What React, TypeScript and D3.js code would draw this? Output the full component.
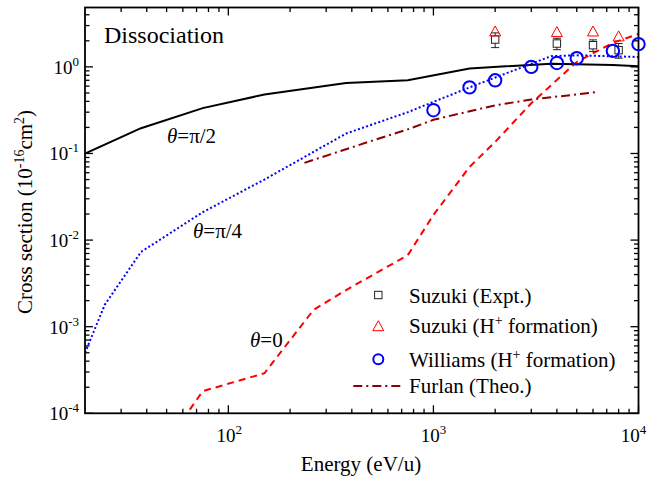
import React from 'react';
import * as d3 from 'd3';

const W = 650;
const H = 480;
const PL = 85, PR = 638.5, PT = 7.5, PB = 413.3;

const xDomain = [20, 10000];
const yDomain = [1e-4, 4.85];

// theta = pi/2 (black solid)
const halfE = [20, 37.5, 75, 150, 375, 750, 1500, 3750, 7500, 10000];
const halfV = [0.1, 0.196, 0.334, 0.48, 0.65, 0.7, 0.96, 1.09, 1.05, 1.02];

// theta = pi/4 (blue dotted)
const quarterE = [20, 25, 37.5, 75, 150, 375, 750, 1500, 3750, 5000, 10000];
const quarterV = [5e-4, 1.8e-3, 7.3e-3, 0.021, 0.05, 0.17, 0.3, 0.58, 1.33, 1.36, 1.3];

// theta = 0 (red dashed)
const zeroE = [60, 75, 150, 260, 375, 750, 1000, 1500, 2000, 3000, 5000, 7500, 10000];
const zeroV = [8.5e-5, 1.8e-4, 2.9e-4, 1.56e-3, 2.65e-3, 6.7e-3, 0.0195, 0.07, 0.136, 0.38, 1.14, 1.9, 2.4];

// Furlan (Theo.)
const furlanE = [235, 500, 750, 1000, 2000, 3000, 6200];
const furlanV = [0.078, 0.14, 0.19, 0.245, 0.36, 0.42, 0.51];

// Williams (H+ formation)
const williamsE = [1000, 1500, 2000, 3000, 4000, 5000, 7500, 10000];
const williamsV = [0.316, 0.58, 0.7, 1.0, 1.11, 1.26, 1.53, 1.83];

// Suzuki
const suzukiE = [2000, 4000, 6000, 8000];
const suzukiExpt = [2.07, 1.86, 1.78, 1.56];
const suzukiErr = [0.4, 0.28, 0.27, 0.3];
const suzukiH = [2.53, 2.49, 2.53, 2.22];

const xMajor = [100, 1000, 10000];
const xMajorExp = ['2', '3', '4'];
const yMajor = [1e-4, 1e-3, 1e-2, 1e-1, 1];
const yMajorExp = ['-4', '-3', '-2', '-1', '0'];

const legendLabels = ['Suzuki (Expt.)', 'Suzuki (H', 'Williams (H', 'Furlan (Theo.)'];

const FONT = 'Liberation Serif';

export default function App() {
  const x = d3.scaleLog().domain(xDomain).range([PL, PR]);
  const y = d3.scaleLog().domain(yDomain).range([PB, PT]);

  const mk = (E: number[], V: number[]) =>
    d3.line<number>().x((_, i) => x(E[i])).y((_, i) => y(V[i]))(E) || '';

  const xMinor: number[] = [];
  for (let k = 1; k <= 3; k++) for (let j = 2; j <= 9; j++) {
    const v = j * Math.pow(10, k);
    if (v > xDomain[0] && v < xDomain[1]) xMinor.push(v);
  }
  const yMinor: number[] = [];
  for (let k = -4; k <= 0; k++) for (let j = 2; j <= 9; j++) {
    const v = j * Math.pow(10, k);
    if (v > yDomain[0] && v < yDomain[1]) yMinor.push(v);
  }
  const MAJ = 8, MIN = 4.5;

  const tri = (cx: number, cy: number, s: number) =>
    `M${cx},${cy - s * 0.6} L${cx + s * 0.55},${cy + s * 0.4} L${cx - s * 0.55},${cy + s * 0.4} Z`;

  const legY = [295, 326.7, 359.3, 386];
  const legTextX = 409;
  const xLabelShift = [1, 0, -5];
  const ts = { fontFamily: FONT };

  return (
    <svg width={W} height={H} style={{ display: 'block', position: 'absolute', left: 0, top: 0 }}>
      <rect x={0} y={0} width={W} height={H} fill="#fff" />
      <defs>
        <clipPath id="plotclip">
          <rect x={PL} y={PT} width={PR - PL} height={PB - PT} />
        </clipPath>
      </defs>

      <g stroke="#000" strokeWidth={1.3}>
        {xMajor.map((v, i) => (
          <g key={'xM' + i}>
            <line x1={x(v)} x2={x(v)} y1={PB} y2={PB - MAJ} />
            <line x1={x(v)} x2={x(v)} y1={PT} y2={PT + MAJ} />
          </g>
        ))}
        {xMinor.map((v, i) => (
          <g key={'xm' + i}>
            <line x1={x(v)} x2={x(v)} y1={PB} y2={PB - MIN} />
            <line x1={x(v)} x2={x(v)} y1={PT} y2={PT + MIN} />
          </g>
        ))}
        {yMajor.map((v, i) => (
          <g key={'yM' + i}>
            <line x1={PL} x2={PL + MAJ} y1={y(v)} y2={y(v)} />
            <line x1={PR} x2={PR - MAJ} y1={y(v)} y2={y(v)} />
          </g>
        ))}
        {yMinor.map((v, i) => (
          <g key={'ym' + i}>
            <line x1={PL} x2={PL + MIN} y1={y(v)} y2={y(v)} />
            <line x1={PR} x2={PR - MIN} y1={y(v)} y2={y(v)} />
          </g>
        ))}
      </g>

      <g clipPath="url(#plotclip)" fill="none" strokeWidth={2}>
        <path d={mk(halfE, halfV)} stroke="#000" />
        <path d={mk(quarterE, quarterV)} stroke="#0000ff" strokeDasharray="2,2.3" />
        <path d={mk(zeroE, zeroV)} stroke="#ff0000" strokeDasharray="7,5" />
        <path d={mk(furlanE, furlanV)} stroke="#8b0000" strokeDasharray="9,4,2,4" />
      </g>

      <rect x={PL} y={PT} width={PR - PL} height={PB - PT} fill="none" stroke="#000" strokeWidth={1.8} />

      <g stroke="#222" strokeWidth={1} fill="none">
        {suzukiE.map((e, i) => {
          const cx = x(e);
          const y1 = y(suzukiExpt[i] + suzukiErr[i]);
          const y2 = y(suzukiExpt[i] - suzukiErr[i]);
          const cy = y(suzukiExpt[i]);
          return (
            <g key={'se' + i}>
              <line x1={cx} x2={cx} y1={y1} y2={y2} />
              <line x1={cx - 4} x2={cx + 4} y1={y1} y2={y1} />
              <line x1={cx - 4} x2={cx + 4} y1={y2} y2={y2} />
              <rect x={cx - 3.7} y={cy - 3.7} width={7.4} height={7.4} fill="#fff" />
            </g>
          );
        })}
      </g>
      <g stroke="#ff0000" strokeWidth={1} fill="none">
        {suzukiE.map((e, i) => (
          <path key={'st' + i} d={tri(x(e), y(suzukiH[i]), 10)} />
        ))}
      </g>
      <g stroke="#0000ff" strokeWidth={2} fill="none">
        {williamsE.map((e, i) => (
          <circle key={'wc' + i} cx={x(e)} cy={y(williamsV[i])} r={6.2} />
        ))}
      </g>

      <g fontSize={19} fill="#000">
        {xMajor.map((v, i) => (
          <text key={'xl' + i} style={ts} x={x(v) + xLabelShift[i]} y={442} textAnchor="middle">
            10<tspan dy={-8} fontSize={13}>{xMajorExp[i]}</tspan>
          </text>
        ))}
        {yMajor.map((v, i) => (
          <text key={'yl' + i} style={ts} x={79} y={y(v) + 7} textAnchor="end">
            10<tspan dy={-8} fontSize={13}>{yMajorExp[i]}</tspan>
          </text>
        ))}
      </g>

      <text style={ts} x={361} y={471} fontSize={21} textAnchor="middle">Energy (eV/u)</text>
      <text style={ts} transform="translate(32,212) rotate(-90)" fontSize={21} textAnchor="middle">
        Cross section (10<tspan dy={-8} fontSize={14}>-16</tspan><tspan dy={8}>cm</tspan><tspan dy={-8} fontSize={14}>2</tspan><tspan dy={8}>)</tspan>
      </text>

      <text style={ts} x={104} y={43} fontSize={24}>Dissociation</text>
      <text style={ts} x={167} y={143} fontSize={21}><tspan fontStyle="italic">θ</tspan>=π/2</text>
      <text style={ts} x={193} y={238} fontSize={21}><tspan fontStyle="italic">θ</tspan>=π/4</text>
      <text style={ts} x={250} y={346.7} fontSize={21}><tspan fontStyle="italic">θ</tspan>=0</text>

      <g fontSize={21}>
        <rect x={378.3 - 3.7} y={legY[0] - 3.7} width={7.4} height={7.4} fill="none" stroke="#222" strokeWidth={1} />
        <text style={ts} x={legTextX} y={legY[0] + 7.7}>{legendLabels[0]}</text>

        <path d={tri(378.3, legY[1], 10)} fill="none" stroke="#ff0000" strokeWidth={1} />
        <text style={ts} x={legTextX} y={legY[1] + 6.7}>{legendLabels[1]}<tspan dy={-8} fontSize={14}>+</tspan><tspan dy={8}> formation)</tspan></text>

        <circle cx={378.3} cy={legY[2]} r={5} fill="none" stroke="#0000ff" strokeWidth={2} />
        <text style={ts} x={legTextX} y={legY[2] + 7.4}>{legendLabels[2]}<tspan dy={-8} fontSize={14}>+</tspan><tspan dy={8}> formation)</tspan></text>

        <line x1={353.3} x2={403.3} y1={legY[3]} y2={legY[3]} stroke="#8b0000" strokeWidth={2} strokeDasharray="9,4,2,4" />
        <text style={ts} x={legTextX} y={legY[3] + 7.3}>{legendLabels[3]}</text>
      </g>
    </svg>
  );
}
